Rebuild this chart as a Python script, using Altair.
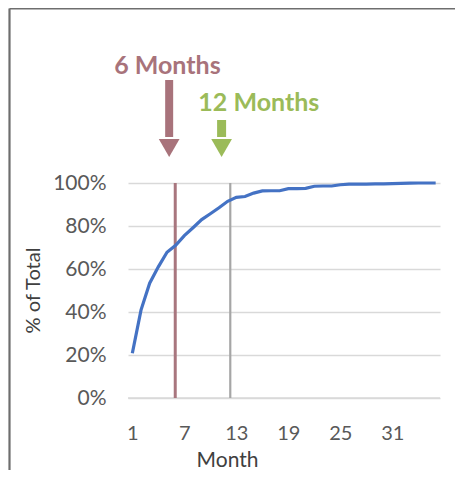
import altair as alt
import pandas as pd

months = list(range(1, 37))
pct = [20.8, 40.9, 53.4, 61.0, 67.8, 71.0, 75.5, 79.2, 83.0, 85.7, 88.5, 91.5,
       93.3, 93.7, 95.3, 96.3, 96.4, 96.4, 97.4, 97.4, 97.5, 98.5, 98.6, 98.6,
       99.2, 99.5, 99.5, 99.5, 99.6, 99.6, 99.7, 99.8, 99.9, 100.0, 100.0, 100.0]
x_ticks = [1, 7, 13, 19, 25, 31]
y_ticks = [0, 0.2, 0.4, 0.6, 0.8, 1.0]
marker_months = [5.95, 12.3]
marker_colors = ["#a8767e", "#a6a6a6"]
labels = ["6 Months", "12 Months"]
label_colors = ["#a8737b", "#9bbb59"]
arrow_months = [5.25, 11.3]

df = pd.DataFrame({"Month": months, "Share": [p / 100 for p in pct]})
one = pd.DataFrame({"k": [0]})

W, H = 312, 215
FONT = "Lato"

xscale = alt.Scale(domain=[0.5, 36.5], nice=False, zero=False)
yscale = alt.Scale(domain=[0, 1], nice=False)

line = alt.Chart(df).mark_line(color="#4472c4", strokeWidth=3.2).encode(
    x=alt.X("Month:Q", scale=xscale,
            axis=alt.Axis(values=x_ticks, grid=False, domain=False, ticks=False,
                          labelFont=FONT, labelFontSize=20, labelColor="#595959",
                          labelPadding=25, title="Month", titleFont=FONT,
                          titleFontSize=21, titleFontWeight="normal",
                          titleColor="#404040", titleX=99, titleY=68,
                          titleBaseline="alphabetic", titleAlign="center")),
    y=alt.Y("Share:Q", scale=yscale,
            axis=alt.Axis(values=y_ticks, format=".0%", grid=True,
                          gridColor="#d9d9d9", gridWidth=1.3, domain=False,
                          ticks=False, labelFont=FONT, labelFontSize=21,
                          labelColor="#595959", labelPadding=22,
                          title="% of Total", titleFont=FONT, titleFontSize=20,
                          titleFontWeight="normal", titleColor="#404040",
                          titleX=-95, titleY=107, titleAngle=270,
                          titleBaseline="middle", titleAlign="center")),
)

rules = []
for m, c in zip(marker_months, marker_colors):
    rules.append(alt.Chart(one).mark_rule(color=c, strokeWidth=3 if c == marker_colors[0] else 2.2).encode(
        x=alt.datum(m, scale=xscale), y=alt.value(0), y2=alt.value(H)))

bottom = alt.Chart(one).mark_rule(color="#d9d9d9", strokeWidth=1.5).encode(
    x=alt.value(0), x2=alt.value(W), y=alt.value(H))

annots = []
annots.append(alt.Chart(one).mark_text(text=labels[0], font=FONT, fontSize=25,
                                       fontWeight="bold", color=label_colors[0],
                                       baseline="alphabetic", align="center").encode(
    x=alt.datum(5.05, scale=xscale), y=alt.value(-109)))
annots.append(alt.Chart(one).mark_rule(color=label_colors[0], strokeWidth=8).encode(
    x=alt.datum(arrow_months[0], scale=xscale), y=alt.value(-103), y2=alt.value(-46)))
annots.append(alt.Chart(one).mark_point(shape="triangle-down", filled=True, opacity=1,
                                        color=label_colors[0], size=430).encode(
    x=alt.datum(arrow_months[0], scale=xscale), y=alt.value(-35)))
annots.append(alt.Chart(one).mark_text(text=labels[1], font=FONT, fontSize=25,
                                       fontWeight="bold", color=label_colors[1],
                                       baseline="alphabetic", align="center").encode(
    x=alt.datum(15.6, scale=xscale), y=alt.value(-72)))
annots.append(alt.Chart(one).mark_rule(color=label_colors[1], strokeWidth=9).encode(
    x=alt.datum(arrow_months[1], scale=xscale), y=alt.value(-63), y2=alt.value(-46)))
annots.append(alt.Chart(one).mark_point(shape="triangle-down", filled=True, opacity=1,
                                        color=label_colors[1], size=430).encode(
    x=alt.datum(arrow_months[1], scale=xscale), y=alt.value(-35)))

frame_left = alt.Chart(one).mark_rule(color="#6e6e6e", strokeWidth=2.2).encode(
    x=alt.value(-118.5), y=alt.value(-174.5), y2=alt.value(H + 80))
frame_top = alt.Chart(one).mark_rule(color="#6e6e6e", strokeWidth=2.2).encode(
    x=alt.value(-118.5), x2=alt.value(W + 30), y=alt.value(-174.5))

chart = alt.layer(bottom, *rules, line, *annots, frame_left, frame_top).properties(
    width=W, height=H,
    autosize=alt.AutoSizeParams(type="none"),
    padding={"left": 120, "top": 175, "right": 15, "bottom": 72},
    background="white",
).configure_view(stroke=None)

chart.save("out.html", embed_options={"renderer": "svg", "actions": False})
